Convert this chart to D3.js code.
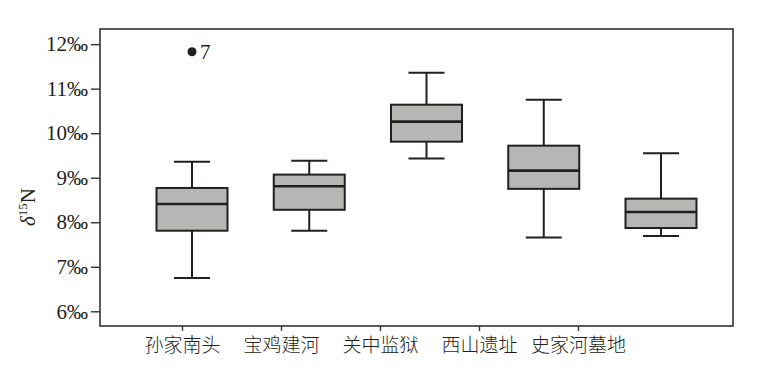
<!DOCTYPE html>
<html>
<head>
<meta charset="utf-8">
<script src="https://cdn.jsdelivr.net/npm/d3@7"></script>
<style>
  body { margin: 0; background: #fff; }
  svg { display: block; }
  .yax text { font-family: "Liberation Serif", "Times New Roman", serif; font-size: 21px; fill: #231f20; }
  .xax text { font-family: "Noto Sans CJK SC", sans-serif; font-size: 19px; font-weight: 300; fill: #231f20; }
</style>
</head>
<body>
<svg width="771" height="375"></svg>
<script>
// sites and box statistics (δ15N, ‰)
var sites  = ["孙家南头", "宝鸡建河", "关中监狱", "西山遗址", "史家河墓地"];
var whiskLo = [6.75, 7.81, 9.43, 7.66, 7.69];
var q1      = [7.81, 8.28, 9.81, 8.75, 7.87];
var median  = [8.41, 8.81, 10.26, 9.16, 8.23];
var q3      = [8.77, 9.07, 10.64, 9.72, 8.53];
var whiskHi = [9.36, 9.38, 11.36, 10.75, 9.55];
// outliers: site, value, case label
var outSite  = ["孙家南头"];
var outValue = [11.83];
var outLabel = ["7"];
var yTicks = [6, 7, 8, 9, 10, 11, 12];

var svg = d3.select("svg");
var m = {left: 100, right: 733, top: 29, bottom: 326};

var y = d3.scaleLinear().domain([5.67, 12.34]).range([m.bottom, m.top]);
// boxes and axis labels are spaced differently in the original figure
var xBox = d3.scalePoint().domain(sites).range([192, 661]);
var xLab = d3.scalePoint().domain(sites).range([182, 578]);

var boxW = 71, capW = 36;
var ink = "#231f20";

// frame
svg.append("rect")
  .attr("x", m.left).attr("y", m.top)
  .attr("width", m.right - m.left).attr("height", m.bottom - m.top)
  .attr("fill", "none").attr("stroke", "#333").attr("stroke-width", 1.6);

// y axis
var yax = svg.append("g").attr("class", "yax")
  .attr("transform", "translate(" + m.left + ",0)")
  .call(d3.axisLeft(y).tickValues(yTicks).tickSize(9).tickPadding(3)
    .tickFormat(function(d) { return d + "‰"; }));
yax.select(".domain").remove();
yax.selectAll("line").attr("stroke", "#333").attr("stroke-width", 1.4);

// x axis
var xax = svg.append("g").attr("class", "xax")
  .attr("transform", "translate(0," + m.bottom + ")")
  .call(d3.axisBottom(xLab).tickSize(5).tickPadding(8));
xax.select(".domain").remove();
xax.selectAll("line").attr("stroke", "#333").attr("stroke-width", 1.4);

// y label
var yl = svg.append("text")
  .attr("transform", "translate(35,207) rotate(-90)")
  .attr("text-anchor", "middle")
  .style("font-family", "'Liberation Serif', 'Times New Roman', serif")
  .style("font-size", "21px").attr("fill", ink);
yl.append("tspan").text("δ").style("font-style", "italic");
yl.append("tspan").text("15").attr("dy", -8).style("font-size", "13px");
yl.append("tspan").text("N").attr("dy", 8);

// boxes
var g = svg.append("g").selectAll("g").data(sites).enter().append("g");

g.append("line")
  .attr("x1", function(d) { return xBox(d); })
  .attr("x2", function(d) { return xBox(d); })
  .attr("y1", function(d, i) { return y(whiskLo[i]); })
  .attr("y2", function(d, i) { return y(whiskHi[i]); })
  .attr("stroke", ink).attr("stroke-width", 2);

g.selectAll(".cap").data(function(d, i) { return [[d, whiskLo[i]], [d, whiskHi[i]]]; })
  .enter().append("line").attr("class", "cap")
  .attr("x1", function(d) { return xBox(d[0]) - capW / 2; })
  .attr("x2", function(d) { return xBox(d[0]) + capW / 2; })
  .attr("y1", function(d) { return y(d[1]); })
  .attr("y2", function(d) { return y(d[1]); })
  .attr("stroke", ink).attr("stroke-width", 2);

g.append("rect")
  .attr("x", function(d) { return xBox(d) - boxW / 2; })
  .attr("y", function(d, i) { return y(q3[i]); })
  .attr("width", boxW)
  .attr("height", function(d, i) { return y(q1[i]) - y(q3[i]); })
  .attr("fill", "#b6b6b5").attr("stroke", ink).attr("stroke-width", 2);

g.append("line")
  .attr("x1", function(d) { return xBox(d) - boxW / 2; })
  .attr("x2", function(d) { return xBox(d) + boxW / 2; })
  .attr("y1", function(d, i) { return y(median[i]); })
  .attr("y2", function(d, i) { return y(median[i]); })
  .attr("stroke", ink).attr("stroke-width", 2.6);

// outliers
svg.selectAll(".out").data(outSite).enter().append("circle").attr("class", "out")
  .attr("cx", function(d) { return xBox(d); })
  .attr("cy", function(d, i) { return y(outValue[i]); })
  .attr("r", 4.5).attr("fill", ink);
svg.selectAll(".outl").data(outSite).enter().append("text").attr("class", "outl")
  .attr("x", function(d) { return xBox(d) + 8; })
  .attr("y", function(d, i) { return y(outValue[i]) + 7; })
  .text(function(d, i) { return outLabel[i]; })
  .style("font-family", "'Liberation Serif', 'Times New Roman', serif")
  .style("font-size", "21px").attr("fill", ink);
</script>
</body>
</html>
